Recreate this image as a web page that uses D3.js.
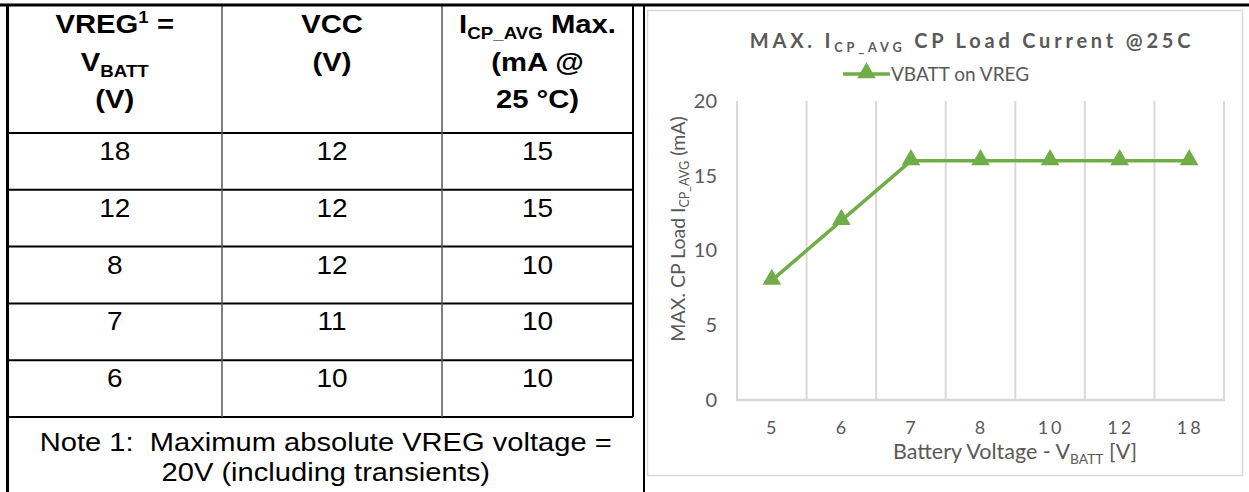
<!DOCTYPE html>
<html>
<head>
<meta charset="utf-8">
<script src="https://cdn.jsdelivr.net/npm/d3@7"></script>
<style>
  body { margin: 0; background: #fff; }
  svg { display: block; }
</style>
</head>
<body>
<div id="chart"></div>
<script>
// table data
var vregValues = ["18", "12", "8", "7", "6"]
var vccValues = ["12", "12", "12", "11", "10"]
var icpValues = ["15", "15", "10", "10", "10"]
var noteLines = ["Note 1:  Maximum absolute VREG voltage =", "20V (including transients)"]

// chart data
var categories = ["5", "6", "7", "8", "10", "12", "18"]
var current = [8, 12, 16, 16, 16, 16, 16]
var yTicks = [0, 5, 10, 15, 20]
var seriesName = "VBATT on VREG"

var width = 1249, height = 492
var green = "#70ad47", grey = "#595959", gridCol = "#d9d9d9"

var svg = d3.select("#chart")
  .append("svg")
  .attr("width", width)
  .attr("height", height)

// write text made of pieces, some of them subscript / superscript
function richText(g, parts, size) {
  var shift = 0
  parts.forEach(function(p) {
    var target = p.sub ? size * 0.22 : p.sup ? -size * 0.4 : 0
    var ts = g.append("tspan").text(p.t)
    if (target - shift !== 0) ts.attr("dy", target - shift)
    if (p.sub || p.sup) ts.style("font-size", (size * 0.64) + "px")
    shift = target
  })
}

// ---------- table ----------
var table = svg.append("g").attr("class", "table")
var tableFont = "'Liberation Sans', Arial, sans-serif"
var stretch = 1.12

var colEdges = [7.5, 222, 442, 633]
var colCenters = [0, 1, 2].map(i => (colEdges[i] + colEdges[i + 1]) / 2)

var rowScale = d3.scaleBand()
  .domain(d3.range(vregValues.length))
  .range([133, 417])

// headers
var headers = [
  [[{t: "VREG"}, {t: "1", sup: true}, {t: " ="}], [{t: "V"}, {t: "BATT", sub: true}], [{t: "(V)"}]],
  [[{t: "VCC"}], [{t: "(V)"}]],
  [[{t: "I"}, {t: "CP_AVG", sub: true}, {t: " Max."}], [{t: "(mA @"}], [{t: "25 \u00b0C)"}]]
]
var headBase = [33, 71, 108]
headers.forEach(function(lines, c) {
  lines.forEach(function(parts, l) {
    var t = table.append("text")
      .attr("transform", `translate(${colCenters[c]},${headBase[l]}) scale(1.17,1)`)
      .attr("text-anchor", "middle")
      .style("font-family", tableFont)
      .style("font-weight", "bold")
      .style("font-size", "25px")
      .style("fill", "#000")
    richText(t, parts, 25)
  })
})

// body cells
;[vregValues, vccValues, icpValues].forEach(function(col, c) {
  table.selectAll(".cell-" + c)
    .data(col)
    .enter()
    .append("text")
    .attr("class", "cell-" + c)
    .attr("transform", (d, i) => `translate(${colCenters[c]},${rowScale(i) + 27}) scale(${stretch},1)`)
    .attr("text-anchor", "middle")
    .style("font-family", tableFont)
    .style("font-size", "25px")
    .style("fill", "#000")
    .text(d => d)
})

// note
table.selectAll(".note")
  .data(noteLines)
  .enter()
  .append("text")
  .attr("class", "note")
  .attr("transform", (d, i) => `translate(${(colEdges[0] + 644) / 2},${451 + i * 30}) scale(${stretch},1)`)
  .attr("text-anchor", "middle")
  .style("font-family", tableFont)
  .style("font-size", "26px")
  .style("white-space", "pre")
  .style("fill", "#000")
  .text(d => d)

// table lines
var rowLines = [133].concat(d3.range(vregValues.length).map(i => rowScale(i) + rowScale.step()))
table.selectAll(".hline")
  .data(rowLines)
  .enter()
  .append("line")
  .attr("x1", colEdges[0]).attr("x2", colEdges[3])
  .attr("y1", d => d).attr("y2", d => d)
  .style("stroke", "#000")
  .style("stroke-width", 2)

table.selectAll(".vline")
  .data([colEdges[1], colEdges[2]])
  .enter()
  .append("line")
  .attr("x1", d => d).attr("x2", d => d)
  .attr("y1", 5).attr("y2", 417)
  .style("stroke", "#555")
  .style("stroke-width", 1.5)

table.append("line")
  .attr("x1", colEdges[3]).attr("x2", colEdges[3])
  .attr("y1", 5).attr("y2", 417)
  .style("stroke", "#000")
  .style("stroke-width", 2)

// outer frame lines
svg.append("line")
  .attr("x1", 0).attr("x2", width)
  .attr("y1", 5).attr("y2", 5)
  .style("stroke", "#000").style("stroke-width", 3)
svg.append("line")
  .attr("x1", colEdges[0]).attr("x2", colEdges[0])
  .attr("y1", 4).attr("y2", height)
  .style("stroke", "#000").style("stroke-width", 3)
svg.append("line")
  .attr("x1", 644).attr("x2", 644)
  .attr("y1", 4).attr("y2", height)
  .style("stroke", "#000").style("stroke-width", 2)

// ---------- chart ----------
var chartFont = "Lato, 'Open Sans', sans-serif"
var chart = svg.append("g").attr("class", "chart")

chart.append("rect")
  .attr("x", 647.5).attr("y", 10.5)
  .attr("width", 595).attr("height", 465)
  .attr("fill", "#fff")
  .style("stroke", gridCol)
  .style("stroke-width", 1.5)

var xScale = d3.scaleBand()
  .domain(categories)
  .range([737, 1224])

var yScale = d3.scaleLinear()
  .domain([0, 20])
  .range([400, 101])

// vertical category grid
var xGrid = d3.axisBottom(xScale)
  .tickSize(-(yScale(0) - yScale(20)))
  .tickFormat("")
chart.append("g")
  .attr("class", "grid")
  .attr("transform", `translate(${xScale.step() / 2},${yScale(0)})`)
  .call(xGrid)
  .call(g => g.select(".domain").remove())
  .selectAll("line")
  .style("stroke", gridCol)
  .style("stroke-width", 2)

chart.append("line")
  .attr("x1", xScale.range()[0]).attr("x2", xScale.range()[0])
  .attr("y1", yScale(20)).attr("y2", yScale(0))
  .style("stroke", gridCol).style("stroke-width", 2)

// bottom axis line
chart.append("line")
  .attr("x1", xScale.range()[0] - 1).attr("x2", xScale.range()[1] + 1)
  .attr("y1", yScale(0)).attr("y2", yScale(0))
  .style("stroke", gridCol).style("stroke-width", 2.5)

// y axis labels
var yAxis = d3.axisLeft(yScale)
  .tickValues(yTicks)
  .tickSize(0)
  .tickPadding(0)
chart.append("g")
  .attr("transform", `translate(717,0)`)
  .call(yAxis)
  .call(g => g.select(".domain").remove())
  .selectAll("text")
  .style("font-family", chartFont)
  .style("font-size", "20px")
  .style("fill", grey)

// x axis labels
var xAxis = d3.axisBottom(xScale)
  .tickSize(0)
  .tickPadding(0)
chart.append("g")
  .attr("transform", `translate(1,421)`)
  .call(xAxis)
  .call(g => g.select(".domain").remove())
  .selectAll("text")
  .style("font-family", chartFont)
  .style("font-size", "18px")
  .style("letter-spacing", "3px")
  .style("fill", grey)

// line + markers
var line = d3.line()
  .x((d, i) => xScale(categories[i]) + xScale.bandwidth() / 2)
  .y(d => yScale(d))

chart.append("path")
  .datum(current)
  .attr("d", line)
  .attr("fill", "none")
  .style("stroke", green)
  .style("stroke-width", 3.5)
  .style("stroke-linejoin", "round")

var tri = d3.symbol().type(d3.symbolTriangle).size(150)
chart.selectAll(".marker")
  .data(current)
  .enter()
  .append("path")
  .attr("class", "marker")
  .attr("d", tri)
  .attr("transform", (d, i) => `translate(${xScale(categories[i]) + xScale.bandwidth() / 2},${yScale(d) - 1})`)
  .style("fill", green)

// title
var title = chart.append("text")
  .attr("x", 972).attr("y", 48)
  .attr("text-anchor", "middle")
  .style("font-family", chartFont)
  .style("font-weight", "bold")
  .style("font-size", "20px")
  .style("letter-spacing", "3.8px")
  .style("fill", grey)
richText(title, [{t: "MAX. I"}, {t: "CP_AVG", sub: true}, {t: " CP Load Current @25C"}], 20)

// legend
var legend = chart.append("g").attr("transform", "translate(843,74)")
legend.append("line")
  .attr("x1", 0).attr("x2", 47)
  .style("stroke", green).style("stroke-width", 3.5)
legend.append("path")
  .attr("d", tri)
  .attr("transform", "translate(23.5,-1)")
  .style("fill", green)
legend.append("text")
  .attr("x", 48).attr("y", 7)
  .style("font-family", chartFont)
  .style("font-size", "19px")
  .style("fill", grey)
  .text(seriesName)

// axis titles
var xTitle = chart.append("text")
  .attr("x", 1015).attr("y", 459)
  .attr("text-anchor", "middle")
  .style("font-family", chartFont)
  .style("font-size", "21.5px")
  .style("fill", grey)
richText(xTitle, [{t: "Battery Voltage - V"}, {t: "BATT", sub: true}, {t: " [V]"}], 21.5)

var yTitle = chart.append("text")
  .attr("transform", "translate(685,229) rotate(-90)")
  .attr("text-anchor", "middle")
  .style("font-family", chartFont)
  .style("font-size", "19.5px")
  .style("fill", grey)
richText(yTitle, [{t: "MAX. CP Load I"}, {t: "CP_AVG", sub: true}, {t: " (mA)"}], 19.5)
</script>
</body>
</html>
